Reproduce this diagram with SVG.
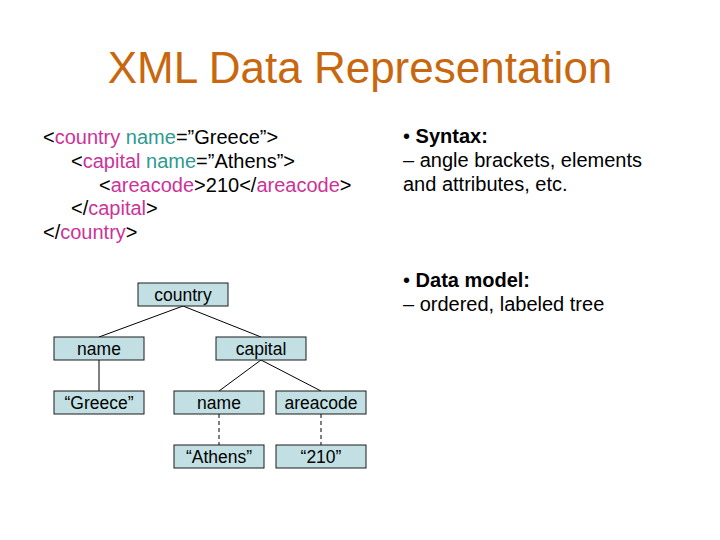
<svg xmlns="http://www.w3.org/2000/svg" width="720" height="540" viewBox="0 0 720 540">
<style>
text{font-family:"Liberation Sans",Arial,sans-serif;}
.title{font-size:44px;fill:#C8670E;}
.code{font-size:20px;fill:#000;}
.tag{fill:#CC3399;}
.att{fill:#2E9A90;}
.txt{font-size:20px;fill:#000;}
.b{font-weight:bold;}
.box{fill:#C2E0E4;stroke:#1a1a1a;stroke-width:1;}
.lbl{font-size:17.5px;fill:#000;text-anchor:middle;}
.edge{stroke:#000;stroke-width:1;fill:none;}
.dash{stroke-dasharray:4,3;}
</style>
<rect width="720" height="540" fill="#fff"/>
<text class="title" x="360" y="83" text-anchor="middle">XML Data Representation</text>
<g id="xml-code" class="code">
<text x="43" y="144">&lt;<tspan class="tag">country</tspan> <tspan class="att">name</tspan>=”Greece”&gt;</text>
<text x="71" y="168">&lt;<tspan class="tag">capital</tspan> <tspan class="att">name</tspan>=”Athens”&gt;</text>
<text x="99" y="191.5">&lt;<tspan class="tag">areacode</tspan>&gt;210&lt;/<tspan class="tag">areacode</tspan>&gt;</text>
<text x="71" y="215">&lt;/<tspan class="tag">capital</tspan>&gt;</text>
<text x="43" y="239">&lt;/<tspan class="tag">country</tspan>&gt;</text>
</g>
<g id="notes" class="txt">
<text x="403" y="143">• <tspan class="b">Syntax:</tspan></text>
<text x="403" y="167">– angle brackets, elements</text>
<text x="403" y="191">and attributes, etc.</text>
<text x="403" y="287">• <tspan class="b">Data model:</tspan></text>
<text x="403" y="311">– ordered, labeled tree</text>
</g>
<g id="connectors">
<line class="edge" x1="183" y1="306" x2="99" y2="337"/>
<line class="edge" x1="183" y1="306" x2="261" y2="337"/>
<line class="edge" x1="99" y1="360" x2="99" y2="391"/>
<line class="edge" x1="261" y1="360" x2="219" y2="391"/>
<line class="edge" x1="261" y1="360" x2="321" y2="391"/>
<line class="edge dash" x1="219" y1="414" x2="219" y2="445"/>
<line class="edge dash" x1="321" y1="414" x2="321" y2="445"/>
</g>
<g id="n-country"><rect class="box" x="138" y="283" width="90" height="23"/><text class="lbl" x="183" y="300.5">country</text></g>
<g id="n-name1"><rect class="box" x="54" y="337" width="90" height="23"/><text class="lbl" x="99" y="354.5">name</text></g>
<g id="n-capital"><rect class="box" x="216" y="337" width="90" height="23"/><text class="lbl" x="261" y="354.5">capital</text></g>
<g id="n-greece"><rect class="box" x="54" y="391" width="90" height="23"/><text class="lbl" x="99" y="408.5">“Greece”</text></g>
<g id="n-name2"><rect class="box" x="174" y="391" width="90" height="23"/><text class="lbl" x="219" y="408.5">name</text></g>
<g id="n-areacode"><rect class="box" x="276" y="391" width="90" height="23"/><text class="lbl" x="321" y="408.5">areacode</text></g>
<g id="n-athens"><rect class="box" x="174" y="445" width="90" height="23"/><text class="lbl" x="219" y="462.5">“Athens”</text></g>
<g id="n-210"><rect class="box" x="276" y="445" width="90" height="23"/><text class="lbl" x="321" y="462.5">“210”</text></g>
</svg>
